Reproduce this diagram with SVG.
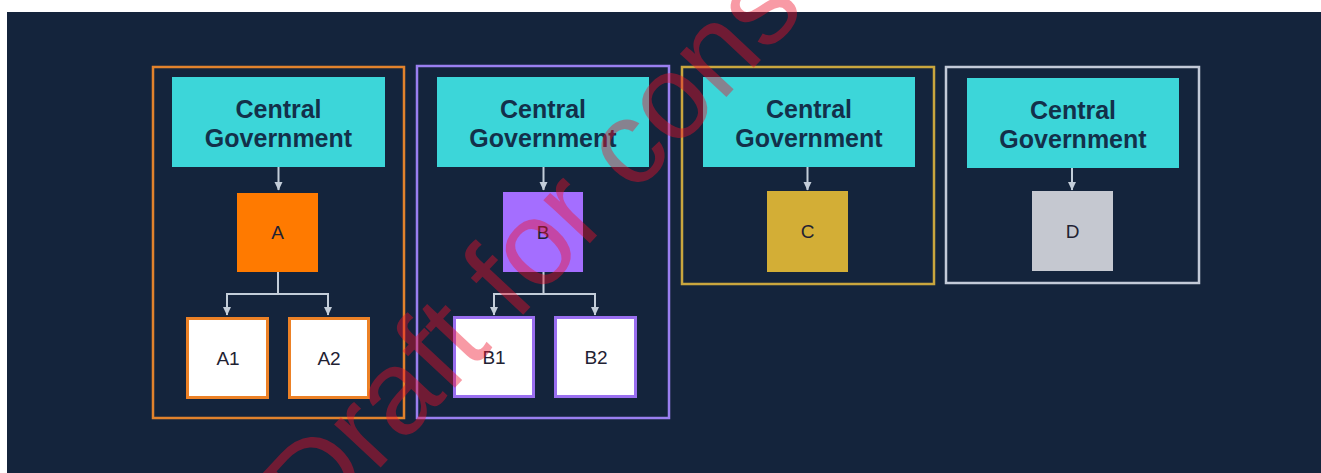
<svg xmlns="http://www.w3.org/2000/svg" width="1321" height="473" viewBox="0 0 1321 473">
<defs>
<style>
.bg{fill:#14243c}
.frame{fill:none;stroke-width:2.5}
.gov{fill:#3cd6d9}
.govt{font-family:"Liberation Sans",Arial,sans-serif;font-weight:bold;font-size:25px;fill:#13304a;text-anchor:middle}
.lbl{font-family:"Liberation Sans",Arial,sans-serif;font-size:19px;fill:#1f2233;text-anchor:middle}
.child{fill:#ffffff;stroke-width:3}
.conn{fill:none;stroke:#c3cdd9;stroke-width:2}
.wm{font-family:"Liberation Sans",Arial,sans-serif;font-size:120px;fill:#f0102a;opacity:0.42}
</style>
<marker id="arr" markerWidth="9" markerHeight="9" refX="8" refY="4.5" orient="auto" markerUnits="userSpaceOnUse">
<path d="M0,0.5 L8.5,4.5 L0,8.5 z" fill="#c3cdd9"/>
</marker>
</defs>
<rect width="1321" height="473" fill="#ffffff"/>
<rect class="bg" x="7" y="12" width="1314" height="461"/>

<g id="frames">
<rect id="frame-a" class="frame" x="153" y="67" width="251" height="351" stroke="#e2822c"/>
<rect id="frame-b" class="frame" x="417" y="66" width="252" height="352" stroke="#9a7ff0"/>
<rect id="frame-c" class="frame" x="682" y="67" width="252" height="217" stroke="#c9a63e"/>
<rect id="frame-d" class="frame" x="946" y="67" width="253" height="216" stroke="#c3cad8"/>
</g>

<g id="connectors">
<path class="conn" d="M278.5 167 V190" marker-end="url(#arr)"/>
<path class="conn" d="M278 272 V294 H227 V315" marker-end="url(#arr)"/>
<path class="conn" d="M278 294 H328 V315" marker-end="url(#arr)"/>
<path class="conn" d="M543.5 167 V190" marker-end="url(#arr)"/>
<path class="conn" d="M543.5 272 V294 H494 V315" marker-end="url(#arr)"/>
<path class="conn" d="M543.5 294 H595 V315" marker-end="url(#arr)"/>
<path class="conn" d="M807.5 167 V190" marker-end="url(#arr)"/>
<path class="conn" d="M1072 168 V190" marker-end="url(#arr)"/>
</g>

<g id="gov-a">
<rect class="gov" x="172" y="77" width="213" height="90"/>
<text class="govt" x="278.5" y="118">Central</text>
<text class="govt" x="278.5" y="147">Government</text>
</g>
<g id="gov-b">
<rect class="gov" x="437" y="77" width="212" height="90"/>
<text class="govt" x="543" y="118">Central</text>
<text class="govt" x="543" y="147">Government</text>
</g>
<g id="gov-c">
<rect class="gov" x="703" y="77" width="212" height="90"/>
<text class="govt" x="809" y="118">Central</text>
<text class="govt" x="809" y="147">Government</text>
</g>
<g id="gov-d">
<rect class="gov" x="967" y="78" width="212" height="90"/>
<text class="govt" x="1073" y="119">Central</text>
<text class="govt" x="1073" y="148">Government</text>
</g>

<g id="node-a">
<rect x="237" y="193" width="81" height="79" fill="#ff7a00"/>
<text class="lbl" x="277.5" y="239">A</text>
</g>
<g id="node-a1">
<rect class="child" x="187.5" y="318.5" width="80" height="79" stroke="#ec8126"/>
<text class="lbl" x="228" y="365">A1</text>
</g>
<g id="node-a2">
<rect class="child" x="289.5" y="318.5" width="79" height="79" stroke="#ec8126"/>
<text class="lbl" x="329" y="365">A2</text>
</g>

<g id="node-b">
<rect x="503" y="192" width="80" height="80" fill="#a46eff"/>
<text class="lbl" x="543" y="239">B</text>
</g>
<g id="node-b1">
<rect class="child" x="454.5" y="317.5" width="79" height="79" stroke="#9a6ff0"/>
<text class="lbl" x="494" y="364">B1</text>
</g>
<g id="node-b2">
<rect class="child" x="555.5" y="317.5" width="80" height="79" stroke="#9a6ff0"/>
<text class="lbl" x="596" y="364">B2</text>
</g>

<g id="node-c">
<rect x="767" y="191" width="81" height="81" fill="#d3ae36"/>
<text class="lbl" x="807.5" y="238">C</text>
</g>

<g id="node-d">
<rect x="1032" y="191" width="81" height="80" fill="#c5c8d0"/>
<text class="lbl" x="1072.5" y="238">D</text>
</g>

<text class="wm" transform="translate(316 537) rotate(-47)">Draft for cons</text>
</svg>
